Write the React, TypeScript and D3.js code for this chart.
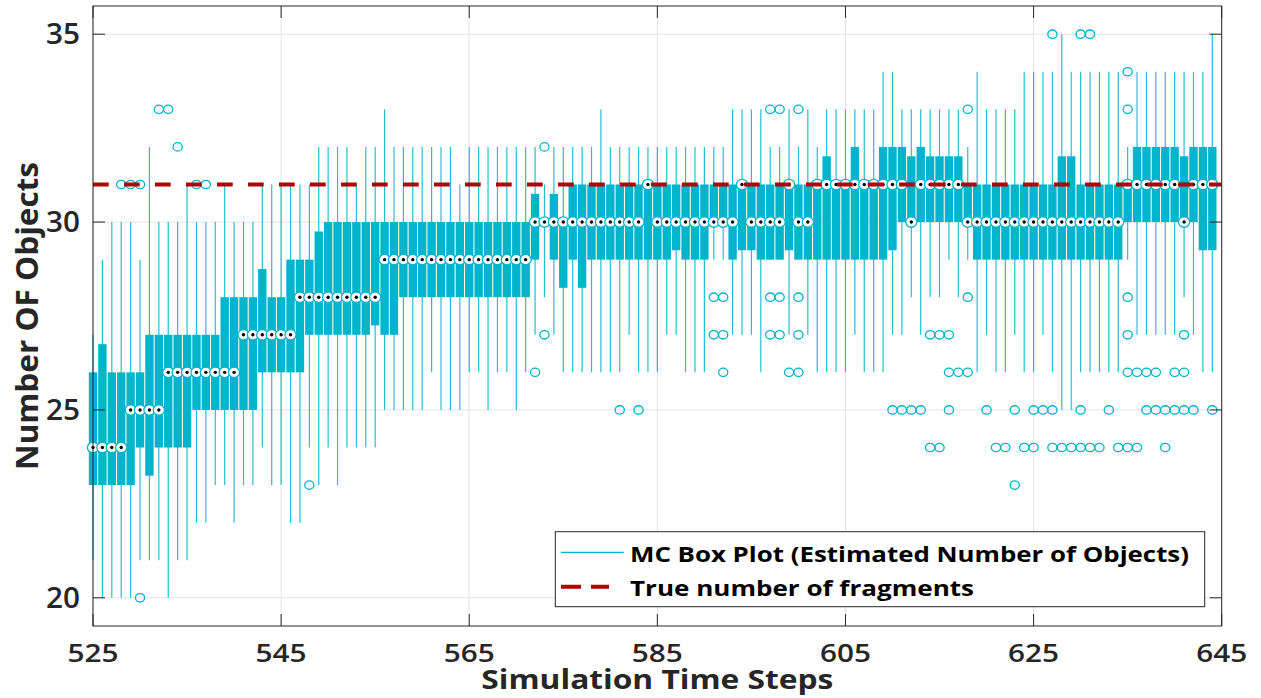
import React from 'react';
import * as d3 from 'd3';

// Time steps (categories)
const steps = [
  525, 526, 527, 528, 529, 530, 531, 532, 533, 534, 535, 536, 537, 538, 539, 540, 541, 542, 543, 544,
  545, 546, 547, 548, 549, 550, 551, 552, 553, 554, 555, 556, 557, 558, 559, 560, 561, 562, 563, 564,
  565, 566, 567, 568, 569, 570, 571, 572, 573, 574, 575, 576, 577, 578, 579, 580, 581, 582, 583, 584,
  585, 586, 587, 588, 589, 590, 591, 592, 593, 594, 595, 596, 597, 598, 599, 600, 601, 602, 603, 604,
  605, 606, 607, 608, 609, 610, 611, 612, 613, 614, 615, 616, 617, 618, 619, 620, 621, 622, 623, 624,
  625, 626, 627, 628, 629, 630, 631, 632, 633, 634, 635, 636, 637, 638, 639, 640, 641, 642, 643, 644,
];

// Lower quartile
const q1 = [
  23, 23, 23, 23, 23, 24, 23.25, 24, 24, 24, 24, 25, 25, 25, 25, 25, 25, 25, 26, 26,
  26, 26, 26, 27, 27, 27, 27, 27, 27, 27, 27.25, 27, 27, 28, 28, 28, 28, 28, 28, 28,
  28, 28, 28, 28, 28, 28, 28, 29, 30, 29, 28.25, 29, 28.25, 29, 29, 29, 29, 29, 29, 29,
  29, 29, 29.25, 29, 29, 29, 30, 30, 29, 29.25, 29.25, 29, 29, 29, 29.25, 29, 29, 29, 29, 29,
  29, 29, 29, 29, 29, 29.25, 30, 30, 30, 30, 30, 30, 30, 30, 29, 29, 29, 29, 29, 29,
  29, 29, 29, 29, 29, 29, 29, 29, 29, 29, 30, 30, 30, 30, 30, 30, 30, 30, 29.25, 29.25,
];

// Upper quartile
const q3 = [
  26, 26.75, 26, 26, 26, 26, 27, 27, 27, 27, 27, 27, 27, 27, 28, 28, 28, 28, 28.75, 28,
  28, 29, 29, 29, 29.75, 30, 30, 30, 30, 30, 30, 30, 30, 30, 30, 30, 30, 30, 30, 30,
  30, 30, 30, 30, 30, 30, 30, 30.75, 30, 30.75, 30, 31, 31, 31, 31, 31, 31, 31, 31, 31,
  31, 31, 31, 31, 31, 31, 31, 31, 31, 31, 31, 31, 31, 31, 31, 31, 31, 31, 31.75, 31,
  31, 32, 31, 31, 32, 32, 32, 31.75, 32, 31.75, 31.75, 31.75, 31.75, 31, 31, 31, 31, 31, 31, 31,
  31, 31, 31, 31.75, 31.75, 31, 31, 31, 31, 31, 31, 32, 32, 32, 32, 32, 31.75, 32, 32, 32,
];

// Median
const med = [
  24, 24, 24, 24, 25, 25, 25, 25, 26, 26, 26, 26, 26, 26, 26, 26, 27, 27, 27, 27,
  27, 27, 28, 28, 28, 28, 28, 28, 28, 28, 28, 29, 29, 29, 29, 29, 29, 29, 29, 29,
  29, 29, 29, 29, 29, 29, 29, 30, 30, 30, 30, 30, 30, 30, 30, 30, 30, 30, 30, 31,
  30, 30, 30, 30, 30, 30, 30, 30, 30, 31, 30, 30, 30, 30, 31, 30, 30, 31, 31, 31,
  31, 31, 31, 31, 31, 31, 31, 30, 31, 31, 31, 31, 31, 30, 30, 30, 30, 30, 30, 30,
  30, 30, 30, 30, 30, 30, 30, 30, 30, 30, 31, 31, 31, 31, 31, 31, 30, 31, 31, 31,
];

// Lower whisker end
const whiskerLow = [
  21, 20, 20, 20, 20, 21, 21, 21, 20, 21, 21, 22, 22, 23, 23, 22, 23, 23, 24, 23,
  23, 22, 22, 24, 23, 24, 23, 24, 24, 24, 24, 25, 25, 25, 25, 25, 26, 25, 25, 25,
  26, 26, 25, 26, 26, 25, 26, 27, 28, 27, 26, 26, 26, 26, 26, 26, 26, 27, 26, 26,
  26, 27, 27, 26, 26, 26, 29, 29, 27, 27, 27, 26, 29, 29, 27, 29, 27, 26, 26, 26,
  26, 27, 26, 26, 26, 27, 27, 28, 27, 28, 28, 29, 28, 29, 26, 27, 26, 26, 27, 26,
  26, 27, 26, 25, 25, 26, 26, 26, 26, 26, 29, 27, 27, 27, 27, 27, 28, 27, 26, 26,
];

// Upper whisker end
const whiskerHigh = [
  27, 29, 30, 30, 30, 29, 32, 30, 30, 30, 31, 30, 30, 30, 31, 30, 30, 30, 31, 31,
  31, 31, 31, 31, 32, 32, 32, 32, 31, 32, 32, 33, 32, 32, 32, 32, 32, 32, 32, 31,
  32, 32, 32, 32, 32, 32, 32, 32, 31, 32, 32, 32, 32, 32, 33, 32, 32, 32, 32, 32,
  32, 32, 32, 32, 32, 32, 32, 32, 33, 33, 33, 33, 32, 32, 33, 32, 33, 32, 33, 33,
  33, 33, 33, 33, 34, 34, 33, 33, 33, 33, 33, 33, 33, 32, 34, 33, 33, 33, 33, 34,
  34, 34, 34, 35, 34, 34, 34, 34, 34, 34, 32, 34, 34, 34, 34, 34, 34, 34, 34, 35,
];

// Outliers (step, value)
const outlierSteps = [
  528, 529, 530, 530, 532, 533, 534, 536, 537, 548, 572, 573, 573, 581, 583,
  591, 591, 592, 592, 592, 597, 597, 597, 598, 598, 598, 599, 600, 600, 600, 600,
  610, 611, 612, 613, 614, 614, 615, 615, 616, 616, 616, 617, 618, 618, 618,
  620, 621, 622, 623, 623, 624, 625, 625, 626, 627, 627, 627, 628, 629, 630, 630, 630,
  631, 631, 632, 633, 634, 635, 635, 635, 635, 635, 635, 636, 636, 637, 637, 638, 638,
  639, 639, 640, 640, 641, 641, 641, 642, 644,
];
const outlierValues = [
  31, 31, 31, 20, 33, 33, 32, 31, 31, 23, 26, 32, 27, 25, 25,
  28, 27, 28, 27, 26, 33, 28, 27, 33, 28, 27, 26, 33, 28, 27, 26,
  25, 25, 25, 25, 27, 24, 27, 24, 27, 26, 25, 26, 33, 28, 26,
  25, 24, 24, 25, 23, 24, 25, 24, 25, 35, 25, 24, 24, 24, 35, 25, 24,
  35, 24, 24, 25, 24, 34, 33, 28, 27, 26, 24, 26, 24, 26, 25, 26, 25,
  25, 24, 26, 25, 27, 26, 25, 25, 25,
];

const trueFragments = 31;
const xTicks = [525, 545, 565, 585, 605, 625, 645];
const yTicks = [20, 25, 30, 35];
const xLabel = 'Simulation Time Steps';
const yLabel = 'Number OF Objects';
const legendLabels = ['MC Box Plot (Estimated Number of Objects)', 'True number of fragments'];

const CYAN = '#00B4CC';
const RED = '#B20000';
const AXIS = '#262626';
const GRID = '#E3E3E3';
const FONT = '"Open Sans", "DejaVu Sans", sans-serif';

export default function App() {
  const W = 1261;
  const H = 698;
  const left = 93;
  const right = 1221.7;
  const top = 6;
  const bottom = 626;

  const x = d3.scaleLinear().domain([525, 645]).range([left, right]);
  const y = d3.scaleLinear().domain([19.25, 35.75]).range([bottom, top]);
  const stepW = x(526) - x(525);
  const bw = stepW * 0.89;
  const tickLen = 12;

  const boxes = steps.map((s, i) => ({
    s,
    q1: q1[i],
    q3: q3[i],
    med: med[i],
    lo: whiskerLow[i],
    hi: whiskerHigh[i],
  }));

  return (
    <svg
      width={W}
      height={H}
      style={{ position: 'absolute', left: 0, top: 0, background: '#fff' }}
    >
      <rect x={0} y={0} width={W} height={H} fill="#fff" />
      {/* grid */}
      {xTicks.map((t) => (
        <line key={'gx' + t} x1={x(t)} x2={x(t)} y1={top} y2={bottom} stroke={GRID} strokeWidth={1} />
      ))}
      {yTicks.map((t) => (
        <line key={'gy' + t} x1={left} x2={right} y1={y(t)} y2={y(t)} stroke={GRID} strokeWidth={1} />
      ))}

      {/* whiskers */}
      {boxes.map((b) => (
        <line
          key={'w' + b.s}
          x1={x(b.s)}
          x2={x(b.s)}
          y1={y(b.hi)}
          y2={y(b.lo)}
          stroke={CYAN}
          strokeWidth={1.2}
          opacity={0.85}
        />
      ))}
      {/* boxes */}
      {boxes.map((b) => (
        <rect
          key={'b' + b.s}
          x={x(b.s) - bw / 2}
          y={y(b.q3)}
          width={bw}
          height={Math.max(0, y(b.q1) - y(b.q3))}
          fill={CYAN}
        />
      ))}
      {/* outliers */}
      {outlierSteps.map((s, i) => (
        <ellipse
          key={'o' + i}
          cx={x(s)}
          cy={y(outlierValues[i])}
          rx={4.6}
          ry={4.2}
          fill="none"
          stroke={CYAN}
          strokeWidth={1.3}
        />
      ))}
      {/* medians */}
      {boxes.map((b) => (
        <g key={'m' + b.s}>
          <ellipse cx={x(b.s)} cy={y(b.med)} rx={5.6} ry={5.2} fill="#fff" stroke={CYAN} strokeWidth={1.3} />
          <circle cx={x(b.s)} cy={y(b.med)} r={1.7} fill="#000" />
        </g>
      ))}

      {/* true number line */}
      <line
        x1={left}
        x2={right}
        y1={y(trueFragments)}
        y2={y(trueFragments)}
        stroke={RED}
        strokeWidth={4}
        strokeDasharray="15.7 15.3"
      />

      {/* axes box */}
      <rect x={left} y={top} width={right - left} height={bottom - top} fill="none" stroke={AXIS} strokeWidth={1} />
      {xTicks.map((t) => (
        <g key={'tx' + t}>
          <line x1={x(t)} x2={x(t)} y1={bottom} y2={bottom - tickLen} stroke={AXIS} strokeWidth={1} />
          <line x1={x(t)} x2={x(t)} y1={top} y2={top + tickLen} stroke={AXIS} strokeWidth={1} />
          <text
            x={x(t)}
            y={662}
            textAnchor="middle"
            fontFamily={FONT}
            fontWeight={600}
            fontSize={26}
            fill={AXIS}
            textLength={51}
            lengthAdjust="spacingAndGlyphs"
          >
            {t}
          </text>
        </g>
      ))}
      {yTicks.map((t) => (
        <g key={'ty' + t}>
          <line x1={left} x2={left + tickLen} y1={y(t)} y2={y(t)} stroke={AXIS} strokeWidth={1} />
          <line x1={right} x2={right - tickLen} y1={y(t)} y2={y(t)} stroke={AXIS} strokeWidth={1} />
          <text
            x={80}
            y={y(t) + 10}
            textAnchor="end"
            fontFamily={FONT}
            fontWeight={600}
            fontSize={28}
            fill={AXIS}
            textLength={34}
            lengthAdjust="spacingAndGlyphs"
          >
            {t}
          </text>
        </g>
      ))}

      {/* axis labels */}
      <text
        x={(left + right) / 2}
        y={689}
        textAnchor="middle"
        fontFamily={FONT}
        fontWeight={700}
        fontSize={26}
        fill={AXIS}
        textLength={352}
        lengthAdjust="spacingAndGlyphs"
      >
        {xLabel}
      </text>
      <text
        transform={`translate(38, ${(top + bottom) / 2}) rotate(-90)`}
        textAnchor="middle"
        fontFamily={FONT}
        fontWeight={700}
        fontSize={30}
        fill={AXIS}
        textLength={308}
        lengthAdjust="spacingAndGlyphs"
      >
        {yLabel}
      </text>

      {/* legend */}
      <rect x={555.3} y={531.7} width={649.4} height={75} fill="#fff" stroke={AXIS} strokeWidth={1} />
      <line x1={561} x2={623.7} y1={552.3} y2={552.3} stroke={CYAN} strokeWidth={1.2} />
      <text
        x={630}
        y={561.5}
        fontFamily={FONT}
        fontWeight={700}
        fontSize={22}
        fill="#000"
        textLength={559}
        lengthAdjust="spacingAndGlyphs"
      >
        {legendLabels[0]}
      </text>
      <line
        x1={561}
        x2={609}
        y1={586.7}
        y2={586.7}
        stroke={RED}
        strokeWidth={4}
        strokeDasharray="20 10"
      />
      <text
        x={630}
        y={595.5}
        fontFamily={FONT}
        fontWeight={700}
        fontSize={22}
        fill="#000"
        textLength={344}
        lengthAdjust="spacingAndGlyphs"
      >
        {legendLabels[1]}
      </text>
    </svg>
  );
}
